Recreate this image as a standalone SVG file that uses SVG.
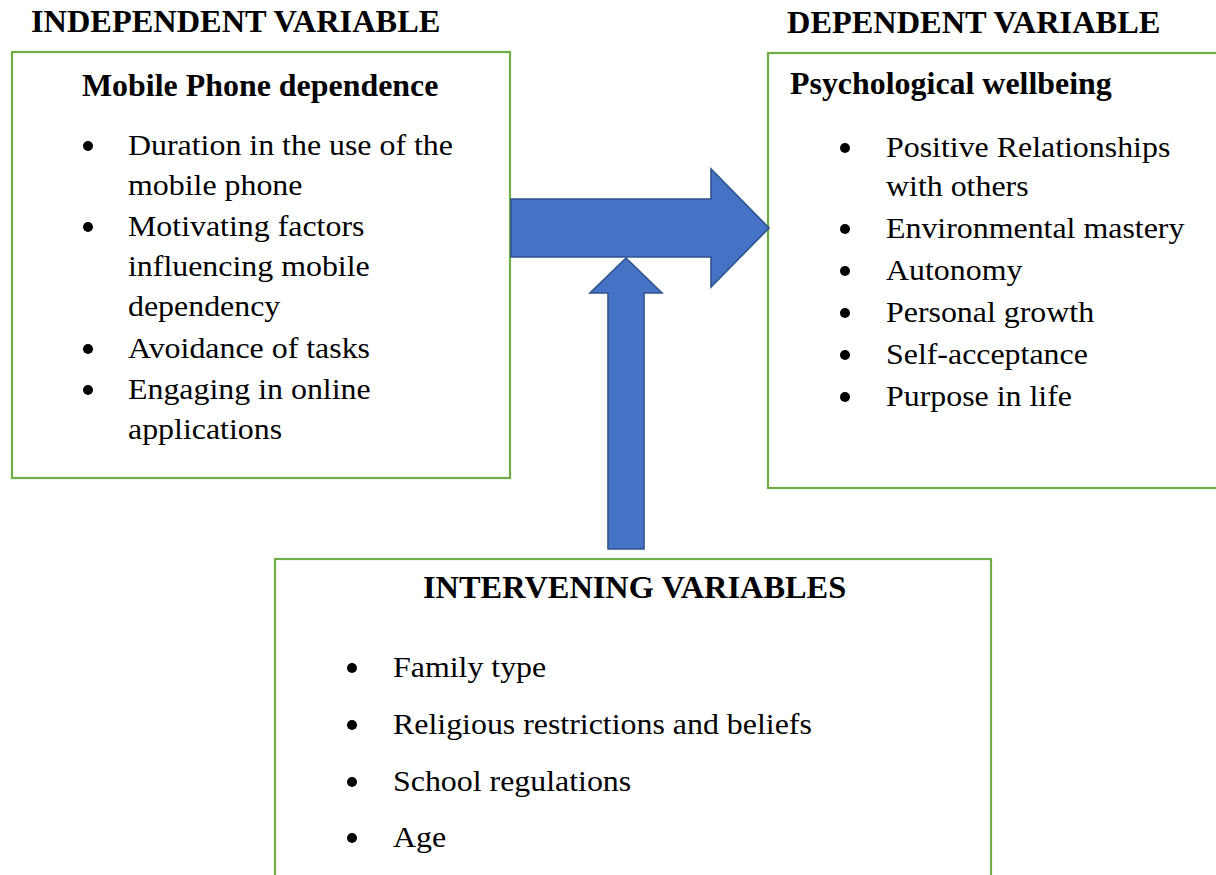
<svg xmlns="http://www.w3.org/2000/svg" width="1216" height="875" viewBox="0 0 1216 875">
  <style>
    .box { fill: #ffffff; stroke: #70AD47; stroke-width: 2.2; }
    .arrow { fill: #4472C4; stroke: #2F528F; stroke-width: 1.6; stroke-linejoin: miter; }
    .head { font-family: "Liberation Serif", "Times New Roman", serif; font-weight: bold; font-size: 31px; fill: #000; }
    .item { font-family: "Liberation Serif", "Times New Roman", serif; font-size: 29px; fill: #000; }
    .dot { fill: #000; }
  </style>
  <rect width="1216" height="875" fill="#ffffff"/>

  <!-- column captions -->
  <g id="captions">
    <text class="head" transform="translate(31 32) scale(1.045 1)">INDEPENDENT VARIABLE</text>
    <text class="head" transform="translate(787 33) scale(1.045 1)">DEPENDENT VARIABLE</text>
  </g>

  <!-- independent variable box -->
  <g id="independent">
    <rect class="box" x="12" y="52" width="498" height="426"/>
    <text class="head" transform="translate(82 96) scale(1.03 1)">Mobile Phone dependence</text>
    <circle class="dot" cx="88" cy="146" r="5"/>
    <text class="item" transform="translate(128 155) scale(1.1 1)">Duration in the use of the</text>
    <text class="item" transform="translate(128 195) scale(1.1 1)">mobile phone</text>
    <circle class="dot" cx="88" cy="227" r="5"/>
    <text class="item" transform="translate(128 236) scale(1.1 1)">Motivating factors</text>
    <text class="item" transform="translate(128 276) scale(1.1 1)">influencing mobile</text>
    <text class="item" transform="translate(128 316) scale(1.1 1)">dependency</text>
    <circle class="dot" cx="88" cy="349" r="5"/>
    <text class="item" transform="translate(128 358) scale(1.1 1)">Avoidance of tasks</text>
    <circle class="dot" cx="88" cy="390" r="5"/>
    <text class="item" transform="translate(128 399) scale(1.1 1)">Engaging in online</text>
    <text class="item" transform="translate(128 439) scale(1.1 1)">applications</text>
  </g>

  <!-- dependent variable box -->
  <g id="dependent">
    <rect class="box" x="768" y="53" width="470" height="435"/>
    <text class="head" transform="translate(790 94) scale(1.03 1)">Psychological wellbeing</text>
    <circle class="dot" cx="845" cy="148" r="5"/>
    <text class="item" transform="translate(886 157) scale(1.1 1)">Positive Relationships</text>
    <text class="item" transform="translate(886 196) scale(1.1 1)">with others</text>
    <circle class="dot" cx="845" cy="229" r="5"/>
    <text class="item" transform="translate(886 238) scale(1.1 1)">Environmental mastery</text>
    <circle class="dot" cx="845" cy="271" r="5"/>
    <text class="item" transform="translate(886 280) scale(1.1 1)">Autonomy</text>
    <circle class="dot" cx="845" cy="313" r="5"/>
    <text class="item" transform="translate(886 322) scale(1.1 1)">Personal growth</text>
    <circle class="dot" cx="845" cy="355" r="5"/>
    <text class="item" transform="translate(886 364) scale(1.1 1)">Self-acceptance</text>
    <circle class="dot" cx="845" cy="397" r="5"/>
    <text class="item" transform="translate(886 406) scale(1.1 1)">Purpose in life</text>
  </g>

  <!-- intervening variables box (runs past the bottom edge) -->
  <g id="intervening">
    <rect class="box" x="275" y="559" width="716" height="340"/>
    <text class="head" transform="translate(423 598) scale(1.045 1)">INTERVENING VARIABLES</text>
    <circle class="dot" cx="352" cy="668" r="5"/>
    <text class="item" transform="translate(393 677) scale(1.1 1)">Family type</text>
    <circle class="dot" cx="352" cy="725" r="5"/>
    <text class="item" transform="translate(393 734) scale(1.1 1)">Religious restrictions and beliefs</text>
    <circle class="dot" cx="352" cy="782" r="5"/>
    <text class="item" transform="translate(393 791) scale(1.1 1)">School regulations</text>
    <circle class="dot" cx="352" cy="838" r="5"/>
    <text class="item" transform="translate(393 847) scale(1.1 1)">Age</text>
  </g>

  <!-- block arrows -->
  <g id="connectors">
    <polygon class="arrow" points="511,199 711,199 711,169 769,228 711,287 711,257 511,257"/>
    <polygon class="arrow" points="626,258 662,293 644,293 644,549 608,549 608,293 590,293"/>
  </g>
</svg>
